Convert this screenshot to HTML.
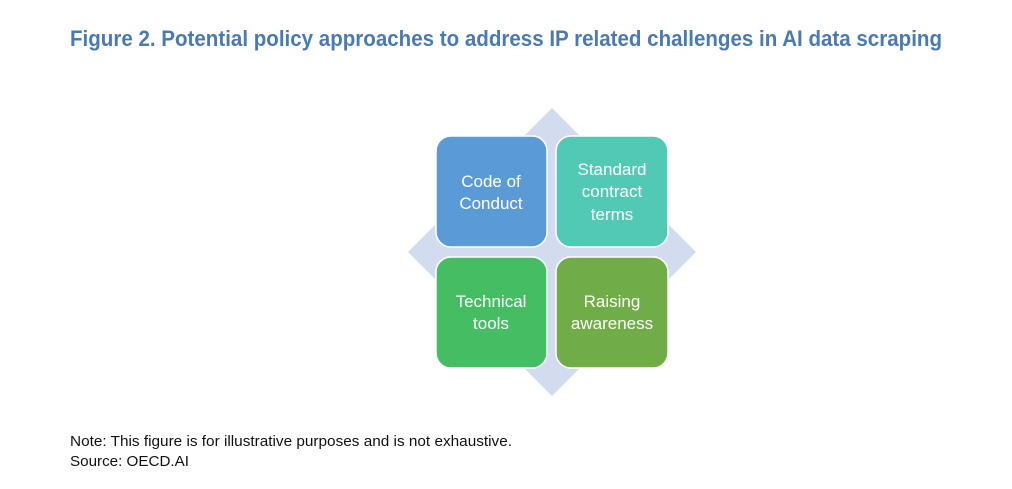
<!DOCTYPE html>
<html><head><meta charset="utf-8"><style>
html,body{margin:0;padding:0;background:#fff;width:1012px;height:489px;overflow:hidden}
</style></head><body>
<svg width="1012" height="489" xmlns="http://www.w3.org/2000/svg">
<text x="70" y="46" font-family="'Liberation Sans Narrow','Liberation Sans',sans-serif" font-weight="bold" font-size="22" fill="#4a7ab0" textLength="872" lengthAdjust="spacingAndGlyphs">Figure 2. Potential policy approaches to address IP related challenges in AI data scraping</text>
<polygon points="552,108 696,252 552,396 408,252" fill="#d3dcee"/>
<g stroke="#fff" stroke-width="1.5">
<rect x="436" y="136" width="111" height="111" rx="15" fill="#5b9bd5"/>
<rect x="556" y="136" width="112" height="111" rx="15" fill="#52c9b5"/>
<rect x="436" y="257" width="111" height="111" rx="15" fill="#45bd62"/>
<rect x="556" y="257" width="112" height="111" rx="15" fill="#70ad47"/>
</g>
<g font-family="'Liberation Sans',sans-serif" font-size="17" fill="#fff" text-anchor="middle">
<text x="491" y="187">Code of</text>
<text x="491" y="209">Conduct</text>
<text x="612" y="175">Standard</text>
<text x="612" y="197">contract</text>
<text x="612" y="220">terms</text>
<text x="491" y="307">Technical</text>
<text x="491" y="329">tools</text>
<text x="612" y="307">Raising</text>
<text x="612" y="329">awareness</text>
</g>
<g font-family="'Liberation Sans Narrow','Liberation Sans',sans-serif" font-size="15" fill="#111">
<text x="70" y="446" textLength="442" lengthAdjust="spacingAndGlyphs">Note: This figure is for illustrative purposes and is not exhaustive.</text>
<text x="70" y="466" textLength="119" lengthAdjust="spacingAndGlyphs">Source: OECD.AI</text>
</g>
</svg>
</body></html>
